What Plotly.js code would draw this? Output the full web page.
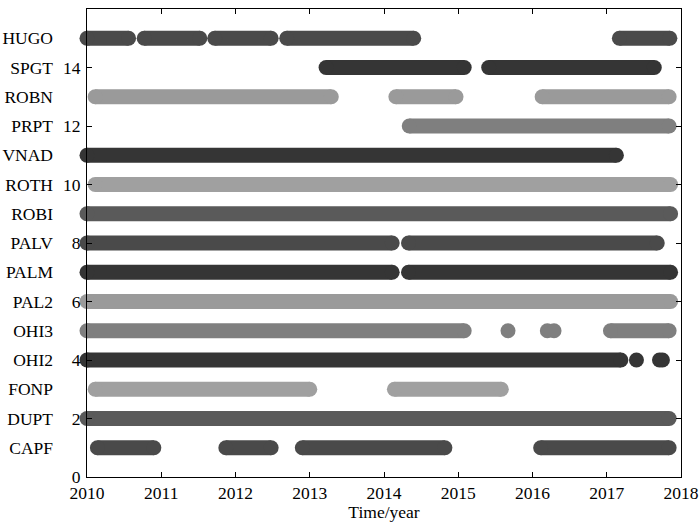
<!DOCTYPE html>
<html>
<head>
<meta charset="utf-8">
<script src="https://cdn.plot.ly/plotly-3.0.1.min.js"></script>
<style>html,body{margin:0;padding:0;background:#fff;}#chart{width:700px;height:522px;}</style>
</head>
<body>
<div id="chart"></div>
<script>
// Station names, bottom (row 1) to top (row 15)
const stations = ['CAPF','DUPT','FONP','OHI2','OHI3','PAL2','PALM','PALV','ROBI','ROTH','VNAD','PRPT','ROBN','SPGT','HUGO'];
const rows = [1,2,3,4,5,6,7,8,9,10,11,12,13,14,15];

// Observation spans [start, end] in years (single epochs have start == end)
const CAPF = [[2010.14,2010.90],[2011.87,2012.48],[2012.90,2014.82],[2016.11,2017.84]];
const DUPT = [[2010.0,2017.84]];
const FONP = [[2010.11,2013.00],[2014.14,2015.58]];
const OHI2 = [[2010.0,2017.19],[2017.40,2017.40],[2017.71,2017.71],[2017.75,2017.75]];
const OHI3 = [[2010.0,2015.08],[2015.67,2015.67],[2016.20,2016.20],[2016.29,2016.29],[2017.05,2017.84]];
const PAL2 = [[2010.0,2017.86]];
const PALM = [[2010.0,2014.11],[2014.33,2017.86]];
const PALV = [[2010.0,2014.11],[2014.33,2017.68]];
const ROBI = [[2010.0,2017.86]];
const ROTH = [[2010.11,2017.86]];
const VNAD = [[2010.0,2017.13]];
const PRPT = [[2014.34,2017.84]];
const ROBN = [[2010.11,2013.29],[2014.16,2014.97],[2016.13,2017.84]];
const SPGT = [[2013.22,2015.08],[2015.41,2017.64]];
const HUGO = [[2010.0,2010.56],[2010.77,2011.52],[2011.72,2012.48],[2012.69,2014.40],[2017.17,2017.85]];

const spans = [CAPF,DUPT,FONP,OHI2,OHI3,PAL2,PALM,PALV,ROBI,ROTH,VNAD,PRPT,ROBN,SPGT,HUGO];

// Axis ticks
const yearTicks = [2010,2011,2012,2013,2014,2015,2016,2017,2018];
const numTicks = [0,2,4,6,8,10,12,14,16];

// Styles
const colors = ['#4a4a4a','#5a5a5a','#a0a0a0','#353535','#7f7f7f','#9a9a9a','#353535','#4a4a4a',
                '#5a5a5a','#a0a0a0','#353535','#7f7f7f','#9a9a9a','#353535','#4a4a4a'];

const traces = [];
spans.forEach((segs, i) => {
  const xs = [], ys = [];
  segs.forEach(s => {
    xs.push(s[0]); ys.push(rows[i]);
    if (s[1] !== s[0]) { xs.push(s[1]); ys.push(rows[i]); }
    xs.push(null); ys.push(null);
  });
  traces.push({
    type: 'scatter', mode: 'lines+markers', x: xs, y: ys,
    line: {color: colors[i], width: 15},
    marker: {color: colors[i], size: 15, line: {width: 0}},
    connectgaps: false, cliponaxis: false, hoverinfo: 'skip', showlegend: false, name: stations[i]
  });
});
// empty trace to host the station-name axis
traces.push({type: 'scatter', mode: 'markers', x: [], y: [], yaxis: 'y2', showlegend: false, hoverinfo: 'skip'});

const fnt = {family: 'Liberation Serif, Times New Roman, serif', size: 17.5, color: '#000'};

const layout = {
  width: 700, height: 522,
  margin: {l: 87, r: 19, t: 9, b: 45},
  paper_bgcolor: '#fff', plot_bgcolor: '#fff',
  font: fnt,
  showlegend: false,
  xaxis: {
    range: [2010, 2018], tickvals: yearTicks, ticktext: yearTicks.map(String),
    ticks: 'inside', ticklen: 5, tickcolor: '#000', tickwidth: 1,
    showline: true, linecolor: '#000', linewidth: 1, mirror: 'ticks',
    showgrid: false, zeroline: false, tickfont: fnt,
    title: {text: 'Time/year', font: fnt, standoff: 1}, automargin: false
  },
  yaxis: {
    range: [0, 16], tickvals: numTicks, ticktext: numTicks.map(String),
    ticks: 'inside', ticklen: 5, tickcolor: '#000', tickwidth: 1,
    showline: true, linecolor: '#000', linewidth: 1, mirror: 'ticks',
    showgrid: false, zeroline: false, tickfont: fnt, automargin: false,
    ticklabelstandoff: 2
  },
  yaxis2: {
    overlaying: 'y', side: 'left', range: [0, 16], tickvals: rows, ticktext: stations,
    ticks: '', showline: false, showgrid: false, zeroline: false,
    tickfont: fnt, ticklabelstandoff: 33, automargin: false
  }
};

Plotly.newPlot('chart', traces, layout, {staticPlot: true, displayModeBar: false});
</script>
</body>
</html>
